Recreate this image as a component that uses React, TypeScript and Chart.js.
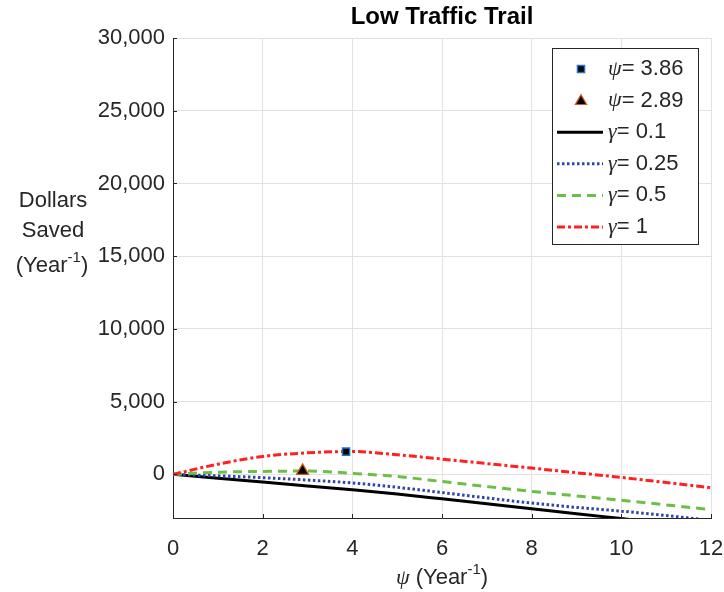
import React, { useEffect, useRef } from "react";
import { Chart, registerables } from "chart.js";

Chart.register(...registerables);

// ---------- data ----------
const chartTitle = "Low Traffic Trail";
const psiValues = [0, 1, 2, 3, 4, 5, 6, 7, 8, 9, 10, 11, 12];
const savedGamma01 = [0, -265, -530, -800, -1065, -1350, -1680, -2020, -2370, -2700, -3040, -3380, -3720];
const savedGamma025 = [0, -100, -225, -390, -590, -890, -1250, -1620, -1975, -2270, -2530, -2830, -3170];
const savedGamma05 = [0, 150, 200, 230, 70, -150, -490, -840, -1170, -1480, -1780, -2100, -2420];
const savedGamma1 = [0, 700, 1230, 1480, 1570, 1350, 1050, 740, 430, 110, -210, -560, -920];
const peakPsiValues = [3.86, 2.89];
const peakSavedValues = [1565, 240];
const gammaLabels = ["0.1", "0.25", "0.5", "1"];
const psiLabels = ["3.86", "2.89"];
const yTickValues = [0, 5000, 10000, 15000, 20000, 25000, 30000];
const xTickValues = [0, 2, 4, 6, 8, 10, 12];
const yMin = -3000;
const yMax = 30000;
const xMin = 0;
const xMax = 12;

// ---------- styles ----------
const SANS = "'Liberation Sans', Arial, Helvetica, sans-serif";
const TEXT = "#262626";
const GRID = "#E2E2E2";
const lineStyles = [
  { color: "#000000", dash: [] as number[], width: 3 },
  { color: "#2F45AA", dash: [2.5, 2.5], width: 3 },
  { color: "#6CBF45", dash: [9, 6], width: 3 },
  { color: "#FF2020", dash: [8, 3, 3, 3], width: 3 },
];
const markerStyles = [
  { style: "rect", fill: "#000000", edge: "#1F77C0", radius: 5, bw: 1.5 },
  { style: "triangle", fill: "#000000", edge: "#D95319", radius: 7, bw: 1.2 },
];

type Seg = { t: string; font: string; dy?: number; w?: number };
function drawRich(ctx: CanvasRenderingContext2D, segs: Seg[], x0: number, cy: number, align: "center" | "left") {
  let total = 0;
  segs.forEach((s) => {
    ctx.font = s.font;
    s.w = ctx.measureText(s.t).width;
    total += s.w;
  });
  let x = align === "center" ? x0 - total / 2 : x0;
  ctx.textAlign = "left";
  ctx.textBaseline = "middle";
  ctx.fillStyle = TEXT;
  segs.forEach((s) => {
    ctx.font = s.font;
    ctx.fillText(s.t, x, cy + (s.dy || 0));
    x += s.w || 0;
  });
}

const decorPlugin = {
  id: "decor",
  afterDraw(chart: any) {
    const ctx: CanvasRenderingContext2D = chart.ctx;
    const area = chart.chartArea;
    const xs = chart.scales.x;
    const ys = chart.scales.y;
    ctx.save();

    // inward tick marks
    ctx.strokeStyle = TEXT;
    ctx.lineWidth = 1;
    ctx.setLineDash([]);
    xTickValues.forEach((v) => {
      const px = Math.round(xs.getPixelForValue(v)) + 0.5;
      ctx.beginPath();
      ctx.moveTo(px, area.bottom);
      ctx.lineTo(px, area.bottom - 4);
      ctx.stroke();
    });
    yTickValues.forEach((v) => {
      const py = Math.round(ys.getPixelForValue(v)) + 0.5;
      ctx.beginPath();
      ctx.moveTo(area.left, py);
      ctx.lineTo(area.left + 4, py);
      ctx.stroke();
    });

    // title
    ctx.fillStyle = "#000";
    ctx.font = `bold 24px ${SANS}`;
    ctx.textAlign = "center";
    ctx.textBaseline = "middle";
    ctx.fillText(chartTitle, (area.left + area.right) / 2, 17);

    // y label
    const yl = 53;
    drawRich(ctx, [{ t: "Dollars", font: `22px ${SANS}` }], yl, 201, "center");
    drawRich(ctx, [{ t: "Saved", font: `22px ${SANS}` }], yl, 231, "center");
    drawRich(
      ctx,
      [
        { t: "(Year", font: `22px ${SANS}` },
        { t: "-1", font: `15px ${SANS}`, dy: -8 },
        { t: ")", font: `22px ${SANS}` },
      ],
      yl - 1,
      266,
      "center"
    );

    // x label
    drawRich(
      ctx,
      [
        { t: "\u03C8", font: `italic 22px 'Liberation Serif', 'DejaVu Serif', serif` },
        { t: " (Year", font: `22px ${SANS}` },
        { t: "-1", font: `15px ${SANS}`, dy: -8 },
        { t: ")", font: `22px ${SANS}` },
      ],
      (area.left + area.right) / 2,
      578,
      "center"
    );

    // legend
    const lx0 = 552, ly0 = 48, lx1 = 698, ly1 = 244;
    ctx.fillStyle = "#fff";
    ctx.fillRect(lx0, ly0, lx1 - lx0, ly1 - ly0);
    ctx.strokeStyle = TEXT;
    ctx.lineWidth = 1;
    ctx.strokeRect(lx0 + 0.5, ly0 + 0.5, lx1 - lx0, ly1 - ly0);
    const rowY = (i: number) => 69 + i * 31.6;
    const textX = 608;
    psiLabels.forEach((lab, i) => {
      const m = markerStyles[i];
      const cy = rowY(i);
      const cx = 581;
      ctx.fillStyle = m.fill;
      ctx.strokeStyle = m.edge;
      ctx.lineWidth = m.bw;
      ctx.setLineDash([]);
      ctx.beginPath();
      if (m.style === "rect") {
        const s = Math.SQRT1_2 * m.radius;
        ctx.rect(cx - s, cy - s, 2 * s, 2 * s);
      } else {
        const r = 6.5;
        ctx.moveTo(cx, cy - r * 0.75 - 1);
        ctx.lineTo(cx + r * 0.866, cy + r * 0.75 - 1);
        ctx.lineTo(cx - r * 0.866, cy + r * 0.75 - 1);
        ctx.closePath();
      }
      ctx.fill();
      ctx.stroke();
      drawRich(
        ctx,
        [
          { t: "\u03C8", font: `italic 22px 'Liberation Serif', 'DejaVu Serif', serif` },
          { t: "= " + lab, font: `22px ${SANS}` },
        ],
        textX,
        cy,
        "left"
      );
    });
    gammaLabels.forEach((lab, i) => {
      const st = lineStyles[i];
      const cy = rowY(i + 2);
      ctx.strokeStyle = st.color;
      ctx.lineWidth = st.width;
      ctx.setLineDash(st.dash);
      ctx.beginPath();
      ctx.moveTo(557, cy);
      ctx.lineTo(603, cy);
      ctx.stroke();
      ctx.setLineDash([]);
      drawRich(
        ctx,
        [
          { t: "\u03B3", font: `italic 22px 'Liberation Serif', 'DejaVu Serif', serif` },
          { t: "= " + lab, font: `22px ${SANS}` },
        ],
        textX,
        cy,
        "left"
      );
    });

    ctx.restore();
  },
};

export default function App() {
  const ref = useRef<HTMLCanvasElement | null>(null);

  useEffect(() => {
    document.body.style.margin = "0";
    const canvas = ref.current;
    if (!canvas) return;

    const series = [savedGamma01, savedGamma025, savedGamma05, savedGamma1];
    const lineDatasets = series.map((vals, i) => ({
      type: "line" as const,
      label: "gamma " + gammaLabels[i],
      data: psiValues.map((x, j) => ({ x, y: vals[j] })),
      borderColor: lineStyles[i].color,
      borderWidth: lineStyles[i].width,
      borderDash: lineStyles[i].dash,
      pointRadius: 0,
      cubicInterpolationMode: "monotone" as const,
      fill: false,
      order: 4 - i,
    }));
    const markerDatasets = peakPsiValues.map((x, i) => ({
      type: "line" as const,
      label: "psi " + psiLabels[i],
      data: [{ x, y: peakSavedValues[i] }],
      showLine: false,
      pointStyle: markerStyles[i].style as any,
      pointRadius: markerStyles[i].radius,
      pointBackgroundColor: markerStyles[i].fill,
      pointBorderColor: markerStyles[i].edge,
      pointBorderWidth: markerStyles[i].bw,
      order: 0,
    }));

    const chart = new Chart(canvas, {
      type: "line",
      data: { datasets: [...markerDatasets, ...lineDatasets] as any },
      options: {
        responsive: false,
        animation: false,
        events: [],
        layout: { padding: { left: 0, right: 13, top: 38, bottom: 0 } },
        plugins: {
          legend: { display: false },
          title: { display: false },
          tooltip: { enabled: false },
        },
        scales: {
          x: {
            type: "linear",
            min: xMin,
            max: xMax,
            afterBuildTicks: (scale: any) => {
              scale.ticks = xTickValues.map((v) => ({ value: v }));
            },
            afterFit: (scale: any) => {
              scale.height = 74;
              scale.paddingLeft = 0;
              scale.paddingRight = 0;
            },
            ticks: {
              color: TEXT,
              font: { family: SANS, size: 22 },
              padding: 18,
              maxRotation: 0,
              autoSkip: false,
            },
            grid: { color: GRID, lineWidth: 1, drawTicks: false },
            border: { display: true, color: TEXT, width: 1 },
          },
          y: {
            type: "linear",
            min: yMin,
            max: yMax,
            afterBuildTicks: (scale: any) => {
              scale.ticks = yTickValues.map((v) => ({ value: v }));
            },
            afterFit: (scale: any) => {
              scale.width = 173;
              scale.paddingTop = 0;
              scale.paddingBottom = 0;
            },
            ticks: {
              color: TEXT,
              font: { family: SANS, size: 22 },
              padding: 8,
              callback: (v: any) => Number(v).toLocaleString("en-US"),
            },
            grid: { color: GRID, lineWidth: 1, drawTicks: false },
            border: { display: true, color: TEXT, width: 1 },
          },
        },
      },
      plugins: [decorPlugin],
    });

    return () => chart.destroy();
  }, []);

  return (
    <div style={{ position: "absolute", left: 0, top: 0, width: 724, height: 592, background: "#fff" }}>
      <canvas ref={ref} width={724} height={592} style={{ display: "block" }} />
    </div>
  );
}
